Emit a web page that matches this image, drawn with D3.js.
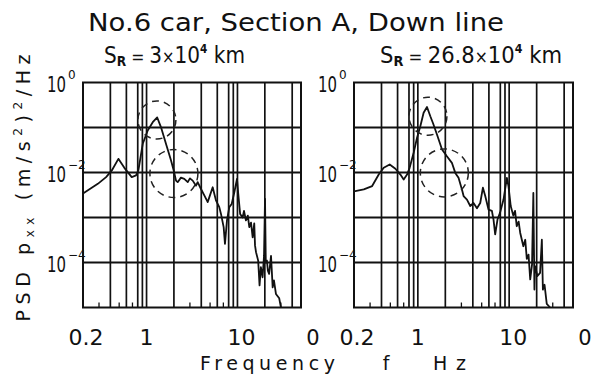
<!DOCTYPE html>
<html>
<head>
<meta charset="utf-8">
<script src="https://cdn.jsdelivr.net/npm/d3@7"></script>
<style>
  body { margin: 0; background: #fff; }
  text { font-family: "DejaVu Sans", sans-serif; fill: #111; }
</style>
</head>
<body>
<svg id="chart" width="591" height="374"></svg>
<script>
// Section A, Down line, No.6 car -- PSD
const freqA = [0.2, 0.291, 0.359, 0.415, 0.49, 0.57, 0.687, 0.767, 0.813, 0.909, 1.03, 1.17, 1.31, 1.44, 1.68, 1.86, 1.99, 2.11, 2.2, 2.39, 2.6, 2.84, 3.0, 3.22, 3.5, 3.65, 3.97, 4.32, 4.71, 4.9, 5.34, 5.8, 6.31, 6.59, 7.05, 7.29, 7.67, 8.13, 8.64, 9.23, 9.88, 10.2, 10.7, 11.4, 11.8, 12.4, 13.0, 13.5, 14.1, 14.7, 15.3, 15.6, 16.0, 16.9, 17.5, 18.1, 18.9, 19.6, 20.1, 20.5, 21.1, 21.6, 22.3, 23.4, 24.4, 25.2, 26.5, 28.8, 30.1];
const psdA = [3.4e-3, 5.6e-3, 7.9e-3, 0.0111, 0.0201, 0.0127, 7.9e-3, 8.6e-3, 0.0111, 0.0435, 0.0858, 0.131, 0.167, 0.102, 0.0365, 0.0185, 0.0111, 6.6e-3, 6.1e-3, 7.7e-3, 7.2e-3, 6.1e-3, 7.4e-3, 6.6e-3, 5.1e-3, 6.1e-3, 4.3e-3, 3.1e-3, 2.2e-3, 2.8e-3, 4.7e-3, 2.4e-3, 1.7e-3, 1.2e-3, 6.1e-4, 2.6e-4, 8.6e-4, 1.7e-3, 2.0e-3, 3.6e-3, 7.2e-3, 3.4e-3, 1.2e-3, 1.0e-3, 1.4e-3, 8.6e-4, 1.1e-3, 6.1e-4, 7.7e-4, 3.6e-4, 7.4e-4, 2.4e-4, 1.7e-4, 1.1e-4, 3.1e-5, 7.9e-5, 4.7e-5, 1.4e-4, 2.6e-3, 1.0e-4, 1.1e-4, 6.6e-5, 5.6e-5, 1.4e-4, 2.8e-5, 4.0e-5, 2.0e-5, 1.6e-5, 1.0e-5];

const freqB = [0.2, 0.256, 0.316, 0.373, 0.423, 0.492, 0.568, 0.644, 0.70, 0.762, 0.813, 0.90, 0.98, 1.065, 1.157, 1.26, 1.37, 1.47, 1.62, 1.84, 2.08, 2.36, 2.57, 2.79, 3.04, 3.17, 3.45, 3.75, 4.07, 4.44, 4.82, 5.16, 5.47, 5.94, 6.47, 6.74, 7.03, 7.45, 7.97, 8.67, 9.44, 9.83, 10.4, 11.1, 11.6, 12.1, 12.7, 13.2, 14.3, 15.0, 15.6, 16.3, 17.0, 17.8, 18.4, 18.9, 19.2, 20.4, 21.8, 22.8, 23.4, 24.4, 25.8, 28.1];
const psdB = [3.8e-3, 4.2e-3, 5.0e-3, 9.0e-3, 0.0127, 0.0151, 0.0121, 9.0e-3, 7.0e-3, 9.0e-3, 0.0127, 0.0274, 0.059, 0.107, 0.212, 0.286, 0.178, 0.123, 0.070, 0.0325, 0.023, 0.0164, 9.8e-3, 7.6e-3, 4.2e-3, 3.0e-3, 2.5e-3, 1.8e-3, 2.1e-3, 1.6e-3, 2.1e-3, 4.6e-3, 3.0e-3, 1.5e-3, 1.4e-3, 9.0e-4, 4.2e-4, 9.0e-4, 1.3e-3, 2.5e-3, 7.6e-3, 5.0e-3, 1.8e-3, 1.1e-3, 1.4e-3, 6.4e-4, 8.1e-4, 4.6e-4, 2.3e-4, 3.2e-4, 1.2e-4, 1.5e-4, 4.2e-5, 9.0e-5, 3.5e-3, 2.5e-5, 8.3e-5, 5.0e-5, 5.9e-5, 3.2e-4, 2.5e-5, 3.2e-5, 1.2e-5, 1.0e-5];

// dashed circles (centre frequency / centre psd)
const circleFreqA = [1.30, 2.0];
const circlePsdA = [0.147, 0.0095];
const circleFreqB = [1.29, 1.95];
const circlePsdB = [0.178, 0.0098];

// grid and ticks
const gridFreqs = [0.4, 0.6, 0.8, 0.9, 1, 2, 4, 6, 8, 9, 10, 20, 40];
const minorFreqs = [0.3, 0.5, 0.7, 3, 5, 7, 30];
const gridPsd = [1e-1, 1e-2, 1e-3, 1e-4];
const xTickVals = [0.2, 1, 10];
const xTickText = ["0.2", "1", "10"];
const yTickExps = [0, -2, -4];
const subtitles = [["3", "×10", "4"], ["26.8", "×10", "4"]];

const svg = d3.select("#chart");
const plotTop = 82.5, plotBottom = 307.5;
const circleR = [19, 24];

const panels = [
  { left: 83, right: 301, freq: freqA, psd: psdA, cf: circleFreqA, cp: circlePsdA, sub: subtitles[0], subX: 104, subW: 141 },
  { left: 354, right: 573, freq: freqB, psd: psdB, cf: circleFreqB, cp: circlePsdB, sub: subtitles[1], subX: 380, subW: 182 }
];

panels.forEach(p => {
  const x = d3.scaleLog().domain([0.2, 50]).range([p.left, p.right]);
  const y = d3.scaleLog().domain([1e-5, 1]).range([plotBottom, plotTop]);
  const g = svg.append("g");

  // grid
  g.selectAll(".vg").data(gridFreqs).enter().append("line")
    .attr("x1", d => x(d)).attr("x2", d => x(d))
    .attr("y1", plotTop).attr("y2", plotBottom)
    .attr("stroke", "#111").attr("stroke-width", 1.7);
  g.selectAll(".hg").data(gridPsd).enter().append("line")
    .attr("x1", p.left).attr("x2", p.right)
    .attr("y1", d => y(d)).attr("y2", d => y(d))
    .attr("stroke", "#111").attr("stroke-width", 1.9);
  g.selectAll(".mt").data(minorFreqs).enter().append("line")
    .attr("x1", d => x(d)).attr("x2", d => x(d))
    .attr("y1", plotBottom).attr("y2", plotBottom - 5)
    .attr("stroke", "#111").attr("stroke-width", 1.3);
  g.append("rect")
    .attr("x", p.left).attr("y", plotTop)
    .attr("width", p.right - p.left).attr("height", plotBottom - plotTop)
    .attr("fill", "none").attr("stroke", "#111").attr("stroke-width", 2);

  // psd curve
  const line = d3.line().x(d => x(d[0])).y(d => y(d[1]));
  g.append("path")
    .datum(d3.zip(p.freq, p.psd))
    .attr("d", line)
    .attr("fill", "none").attr("stroke", "#111")
    .attr("stroke-width", 1.8).attr("stroke-linejoin", "round");

  // dashed circles
  g.selectAll(".dc").data(d3.zip(p.cf, p.cp)).enter().append("circle")
    .attr("cx", d => x(d[0])).attr("cy", d => y(d[1]))
    .attr("r", (d, i) => circleR[i])
    .attr("fill", "none").attr("stroke", "#222")
    .attr("stroke-width", 1.5).attr("stroke-dasharray", "7,5");

  // x tick labels
  xTickVals.forEach((v, i) => {
    const off = i === 0 ? 3 : (i === 2 ? 4 : 0);
    g.append("text")
      .attr("x", x(v) + off).attr("y", 345)
      .attr("text-anchor", "middle").attr("font-size", 22)
      .text(xTickText[i]);
  });
  g.append("text")
    .attr("x", p.right + 12).attr("y", 345)
    .attr("text-anchor", "middle").attr("font-size", 21)
    .text("0");

  // y tick labels
  yTickExps.forEach(e => {
    const yy = y(Math.pow(10, e));
    g.append("text")
      .attr("x", p.left - 36).attr("y", yy + 9)
      .attr("font-size", 22).attr("textLength", 19).attr("lengthAdjust", "spacingAndGlyphs")
      .text("10");
    g.append("text")
      .attr("x", p.left - 15).attr("y", yy - 4)
      .attr("font-size", 12)
      .text(e === 0 ? "0" : String(e).replace("-", "\u2212"));
  });

  // subtitle S_R = ...
  const t = g.append("text")
    .attr("x", p.subX).attr("y", 63)
    .attr("font-size", 23)
    .attr("textLength", p.subW).attr("lengthAdjust", "spacingAndGlyphs");
  t.append("tspan").text("S");
  t.append("tspan").attr("font-size", 14).attr("dy", 3).attr("font-weight", "bold").text("R");
  t.append("tspan").attr("dy", -3).attr("font-size", 18).text(" = ");
  t.append("tspan").attr("font-size", 23).text(p.sub[0]);
  t.append("tspan").attr("font-size", 17).text("\u00d7");
  t.append("tspan").attr("font-size", 23).text("10");
  t.append("tspan").attr("font-size", 12).attr("font-weight", "bold").attr("dy", -10).text(p.sub[2]);
  t.append("tspan").attr("font-size", 23).attr("dy", 10).text(" km");
});

// title
svg.append("text")
  .attr("x", 88).attr("y", 31)
  .attr("font-size", 24)
  .attr("textLength", 416).attr("lengthAdjust", "spacingAndGlyphs")
  .text("No.6 car,  Section A,  Down line");

// x axis label
svg.append("text").attr("x", 200).attr("y", 370).attr("font-size", 19)
  .attr("textLength", 135).attr("lengthAdjust", "spacing").text("Frequency");
svg.append("text").attr("x", 386).attr("y", 370).attr("font-size", 19)
  .attr("text-anchor", "middle").text("f");
svg.append("text").attr("x", 433).attr("y", 370).attr("font-size", 19)
  .attr("textLength", 33).attr("lengthAdjust", "spacing").text("Hz");

// y axis label
const yl = svg.append("text")
  .attr("transform", "translate(30,188) rotate(-90)")
  .attr("text-anchor", "middle").attr("font-size", 19)
  .attr("textLength", 267).attr("lengthAdjust", "spacing");
yl.append("tspan").text("PSD   p");
yl.append("tspan").attr("font-size", 12).attr("dy", 4).text("xx");
yl.append("tspan").attr("dy", -4).text("   (m/s");
yl.append("tspan").attr("font-size", 12).attr("dy", -8).text("2");
yl.append("tspan").attr("dy", 8).text(")");
yl.append("tspan").attr("font-size", 12).attr("dy", -8).text("2");
yl.append("tspan").attr("dy", 8).text("/Hz");
</script>
</body>
</html>
